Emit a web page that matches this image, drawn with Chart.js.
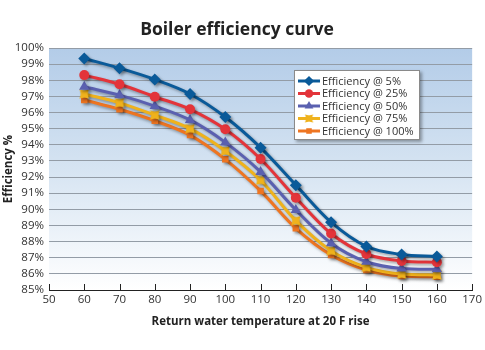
<!DOCTYPE html>
<html><head><meta charset="utf-8">
<script src="https://cdn.jsdelivr.net/npm/chart.js@4"></script>
<style>html,body{margin:0;padding:0;background:#fff}#wrap{width:485px;height:350px}</style>
</head><body><div id="wrap"><canvas id="c" width="485" height="350"></canvas></div>
<script>
const temperatures = [60, 70, 80, 90, 100, 110, 120, 130, 140, 150, 160];
const seriesLabels = ['Efficiency @ 5%', 'Efficiency @ 25%', 'Efficiency @ 50%', 'Efficiency @ 75%', 'Efficiency @ 100%'];
const eff5   = [99.35, 98.75, 98.05, 97.15, 95.72, 93.82, 91.5, 89.2, 87.7, 87.2, 87.08];
const eff25  = [98.32, 97.75, 96.98, 96.2, 94.96, 93.12, 90.72, 88.5, 87.23, 86.8, 86.72];
const eff50  = [97.6, 97.08, 96.4, 95.54, 94.15, 92.32, 89.96, 87.9, 86.75, 86.34, 86.28];
const eff75  = [97.15, 96.6, 95.84, 95.0, 93.62, 91.8, 89.3, 87.43, 86.4, 85.99, 85.93];
const eff100 = [96.78, 96.2, 95.49, 94.6, 93.1, 91.14, 88.82, 87.17, 86.24, 85.87, 85.82];
const yTicks = [85,86,87,88,89,90,91,92,93,94,95,96,97,98,99,100];
const xTicks = [50,60,70,80,90,100,110,120,130,140,150,160,170];

const FONT = '"Open Sans", "Noto Sans", sans-serif';
const colors = ['#0a5a99', '#e3343a', '#5a60b0', '#efb21c', '#ee7521'];

function starMarker(color) {
  const c = document.createElement('canvas');
  c.width = 14; c.height = 14;
  const g = c.getContext('2d');
  g.fillStyle = color;
  g.beginPath();
  const cx = 7, cy = 7;
  const pts = [];
  for (let i = 0; i < 8; i++) {
    const a = Math.PI / 4 + i * Math.PI / 4;
    const r = (i % 2 === 0) ? 6.8 : 3.2;
    pts.push([cx + r * Math.cos(a), cy + r * Math.sin(a)]);
  }
  pts.forEach((p, i) => i ? g.lineTo(p[0], p[1]) : g.moveTo(p[0], p[1]));
  g.closePath(); g.fill();
  g.fillRect(cx - 3.5, cy - 3.5, 7, 7);
  return c;
}
const styles = ['rectRot', 'circle', 'triangle', starMarker(colors[3]), 'rect'];
const radii = [6, 5, 6, 6, 4.6];
const allSeries = [eff5, eff25, eff50, eff75, eff100];

const datasets = allSeries.map((vals, i) => ({
  label: seriesLabels[i],
  data: temperatures.map((t, k) => ({x: t, y: vals[k]})),
  borderColor: colors[i],
  backgroundColor: colors[i],
  borderWidth: 3,
  pointStyle: styles[i],
  pointRadius: radii[i],
  pointBorderWidth: 0,
  tension: 0.35,
  cubicInterpolationMode: 'monotone'
}));

const bgPlugin = {
  id: 'bg',
  beforeDraw(chart) {
    const {ctx, chartArea: a} = chart;
    const g = ctx.createLinearGradient(0, a.top, 0, a.bottom);
    g.addColorStop(0, '#b3cce8');
    g.addColorStop(0.5, '#d6e4f2');
    g.addColorStop(1, '#ffffff');
    ctx.save(); ctx.fillStyle = g;
    ctx.fillRect(a.left, a.top, a.right - a.left, a.bottom - a.top);
    ctx.restore();
  },
  beforeDatasetDraw(chart) {
    const ctx = chart.ctx;
    ctx.save();
    ctx.shadowColor = 'rgba(0,0,0,0.35)';
    ctx.shadowBlur = 3;
    ctx.shadowOffsetX = 2;
    ctx.shadowOffsetY = 2;
  },
  afterDatasetDraw(chart) { chart.ctx.restore(); },
  afterDatasetsDraw(chart) {
    const {ctx, chartArea: a, scales} = chart;
    ctx.save();
    ctx.strokeStyle = '#222'; ctx.lineWidth = 1;
    ctx.beginPath();
    xTicks.forEach(v => {
      const x = Math.round(scales.x.getPixelForValue(v)) + 0.5;
      ctx.moveTo(x, a.bottom); ctx.lineTo(x, a.bottom - 6);
    });
    ctx.stroke();
    ctx.restore();
  },
  afterDraw(chart) {
    const ctx = chart.ctx;
    const bx = 294, by = 70, bw = 126, bh = 70;
    ctx.save();
    ctx.shadowColor = 'rgba(0,0,0,0.35)';
    ctx.shadowBlur = 3; ctx.shadowOffsetX = 2; ctx.shadowOffsetY = 2;
    ctx.fillStyle = '#fff';
    ctx.fillRect(bx, by, bw, bh);
    ctx.restore();
    ctx.save();
    ctx.strokeStyle = '#8a8a8a'; ctx.lineWidth = 1;
    ctx.strokeRect(bx + 0.5, by + 0.5, bw - 1, bh - 1);
    ctx.font = '11px ' + FONT;
    ctx.textBaseline = 'middle';
    chart.data.datasets.forEach((ds, i) => {
      const y = by + 11 + i * 12.5;
      ctx.strokeStyle = ds.borderColor; ctx.lineWidth = 3;
      ctx.beginPath(); ctx.moveTo(298, y); ctx.lineTo(320, y); ctx.stroke();
      ctx.fillStyle = ds.backgroundColor;
      if (typeof ds.pointStyle === 'string') {
        Chart.helpers.drawPoint(ctx, {pointStyle: ds.pointStyle, radius: ds.pointRadius * 0.85, rotation: 0, borderWidth: 0}, 309, y);
      } else {
        ctx.drawImage(ds.pointStyle, 309 - 6, y - 6, 12, 12);
      }
      ctx.fillStyle = '#333';
      ctx.fillText(ds.label, 322, y + 0.5);
    });
    ctx.restore();
  }
};

new Chart(document.getElementById('c'), {
  type: 'line',
  data: { datasets },
  plugins: [bgPlugin],
  options: {
    responsive: false,
    animation: false,
    layout: { padding: { left: 0, right: 11, top: 0, bottom: 21 } },
    plugins: {
      legend: { display: false },
      tooltip: { enabled: false },
      title: {
        display: true,
        text: 'Boiler efficiency curve',
        color: '#222',
        font: { family: FONT, size: 17.5, weight: 'bold' },
        padding: { top: 20, bottom: 7 }
      }
    },
    scales: {
      x: {
        type: 'linear', min: 50, max: 170,
        afterFit: s => { s.height = 39; },
        afterBuildTicks: s => { s.ticks = xTicks.map(v => ({value: v})); },
        ticks: { color: '#333', font: { family: FONT, size: 11.5 }, padding: 3, maxRotation: 0, autoSkip: false },
        grid: { display: false, drawTicks: false },
        border: { display: true, color: '#222', width: 1 },
        title: { display: true, text: 'Return water temperature at 20 F rise', color: '#222',
                 font: { family: FONT, size: 11.5, weight: 'bold' }, padding: { top: 5, bottom: 0 } }
      },
      y: {
        min: 85, max: 100,
        afterFit: s => { s.width = 49; },
        afterBuildTicks: s => { s.ticks = yTicks.map(v => ({value: v})); },
        ticks: { color: '#333', font: { family: FONT, size: 11.5 }, padding: 5, autoSkip: false, callback: v => v + '%' },
        grid: { color: '#939ca6', lineWidth: 1, drawTicks: false },
        border: { display: false },
        title: { display: true, text: 'Efficiency %', color: '#222',
                 font: { family: FONT, size: 11.5, weight: 'bold' }, padding: { top: 2, bottom: 0 } }
      }
    }
  }
});
</script></body></html>
